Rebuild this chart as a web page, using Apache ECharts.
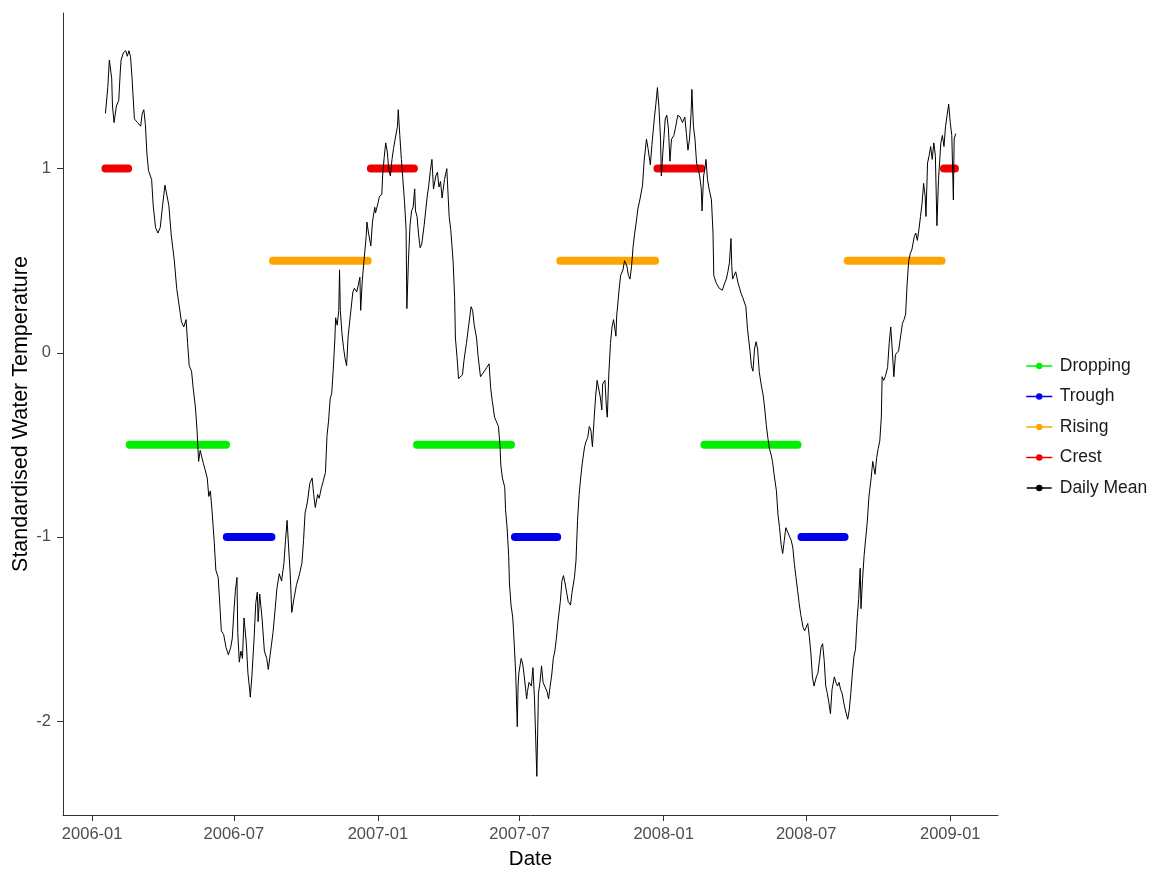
<!DOCTYPE html>
<html>
<head>
<meta charset="utf-8">
<script src="https://cdn.jsdelivr.net/npm/echarts@6/dist/echarts.min.js"></script>
<style>
  html, body { margin: 0; padding: 0; background: #fff; }
  #chart { width: 1152px; height: 869px; }
</style>
</head>
<body>
<div id="chart"></div>
<script>
// daily mean: days since 2006-01-01 and standardised value
const meanDay = [
  17, 20, 22, 25, 26, 28, 31, 34, 36, 37, 40, 43, 45, 47, 49, 51, 54, 56, 58, 60,
  62, 64, 66, 68, 70, 72, 76, 78, 81, 84, 87, 90, 93, 95, 98, 101, 105, 108, 111, 114,
  117, 120, 122, 124, 127, 129, 132, 134, 136, 138, 142, 144, 147, 149, 151, 153, 156, 158, 161, 163,
  165, 168, 171, 174, 177, 179, 181, 183, 185,
  186, 188, 190, 192, 194, 197, 199, 201, 202, 204, 207, 209, 211, 212, 214, 217, 220, 223, 225, 228,
  231, 234, 236, 239, 242, 245, 247, 249, 251, 253, 255, 258, 261, 265, 268, 270, 272, 275, 278, 281,
  283, 285, 288, 290, 293, 295, 298, 300, 302, 304, 306, 308, 310, 311, 313, 315, 316, 317, 319, 321,
  323, 325, 327, 330, 333, 335, 338, 340, 342, 343, 345, 347, 350, 351, 353, 356, 358, 361, 362, 365,
  367, 370, 371, 373, 375,
  377, 379, 381, 383, 385, 387, 390, 391, 393, 395, 397, 399, 401, 402, 404, 406, 408, 410, 412, 413,
  415, 417, 419, 421, 424, 426, 428, 430, 432, 434, 436, 439, 441, 443, 445, 447, 450, 453, 454, 456,
  458, 461, 463, 464, 466, 468, 470, 473, 475, 478, 481, 484, 486, 488, 491, 493, 496, 498, 501, 504,
  507, 509, 511, 514, 516, 519, 521, 522, 524, 527, 528, 530, 532, 533, 535, 537, 538, 541, 543, 544,
  545, 548, 550, 552, 555, 556, 558, 561, 563,
  565, 568, 570, 572, 574, 576, 578, 581, 583, 585, 587, 589, 591, 593, 595, 598, 600, 602, 604, 606,
  608, 611, 613, 616, 618, 620, 622, 624, 626, 629, 631, 633, 635, 637, 639, 641, 643, 645, 646, 649,
  651, 652, 655, 657, 658, 660, 662, 664, 666, 669, 670, 673, 675, 678, 680, 683, 685, 687, 689, 691,
  693, 695, 697, 700, 703, 705, 708, 710, 713, 715, 718, 720, 722, 724, 726, 727, 729, 732, 734, 736,
  738, 740, 743, 745, 748, 751,
  754, 757, 759, 761, 763, 765, 766, 768, 770, 772, 774, 776, 778, 779, 781, 783, 784, 786, 788, 791,
  793, 794, 797, 799, 801, 803, 805, 808, 810, 812, 814, 816, 817, 818, 820, 822, 825, 827, 829, 831,
  833, 835, 837, 840, 842, 844, 846, 848, 850, 852, 854, 857, 859, 861, 863, 865, 867, 869, 871, 874,
  876, 878, 880, 882, 884, 886, 888, 891, 893, 895, 897, 899, 901, 903, 905, 908, 910, 912, 914, 916,
  918, 920, 922, 925, 927, 929, 931, 933, 935, 937, 939,
  941, 943, 945, 948, 950, 952, 954, 956, 958, 960, 962, 965, 967, 969, 971, 973, 975, 977, 979, 981,
  982, 984, 986, 988, 990, 992, 993, 995, 997, 1000, 1002, 1004, 1006, 1008, 1009, 1011, 1013, 1016, 1018, 1020,
  1022, 1024, 1026, 1028, 1030, 1033, 1035, 1037, 1039, 1041, 1043, 1045, 1047, 1050, 1052, 1054, 1056, 1058, 1060, 1062,
  1064, 1065, 1067, 1069, 1071, 1073, 1075, 1077, 1079, 1081, 1084, 1086, 1088, 1090, 1092, 1094, 1096, 1098, 1100, 1101,
  1103
];
const meanValue = [
  1.30, 1.44, 1.59, 1.49, 1.34, 1.25, 1.34, 1.37, 1.53, 1.59, 1.63, 1.64, 1.61, 1.64, 1.61, 1.49, 1.27, 1.28, 1.25, 1.26,
  1.23, 1.30, 1.32, 1.24, 1.08, 0.99, 0.94, 0.80, 0.68, 0.65, 0.68, 0.80, 0.91, 0.91, 0.80, 0.64, 0.50, 0.35, 0.26, 0.17,
  0.14, 0.18, 0.05, -0.07, -0.10, -0.19, -0.30, -0.42, -0.59, -0.53, -0.60, -0.63, -0.68, -0.78, -0.75, -0.85, -1.03, -1.18, -1.22, -1.36,
  -1.51, -1.53, -1.60, -1.64, -1.60, -1.55, -1.41, -1.29, -1.22,
  -1.52, -1.68, -1.62, -1.66, -1.44, -1.58, -1.74, -1.82, -1.87, -1.76, -1.54, -1.36, -1.30, -1.46, -1.31, -1.44, -1.62, -1.66, -1.72, -1.62,
  -1.52, -1.38, -1.28, -1.20, -1.24, -1.14, -1.02, -0.91, -1.06, -1.20, -1.41, -1.33, -1.26, -1.20, -1.14, -1.02, -0.87, -0.81, -0.71, -0.68,
  -0.77, -0.84, -0.77, -0.79, -0.73, -0.70, -0.65, -0.45, -0.37, -0.25, -0.22, -0.09, 0.07, 0.19, 0.15, 0.23, 0.45, 0.23, 0.11, 0.03,
  -0.03, -0.07, 0.09, 0.21, 0.33, 0.35, 0.33, 0.37, 0.41, 0.23, 0.39, 0.49, 0.63, 0.71, 0.65, 0.58, 0.71, 0.79, 0.76, 0.81,
  0.85, 0.86, 0.96, 1.06, 1.14,
  1.09, 0.99, 0.96, 1.05, 1.11, 1.16, 1.23, 1.32, 1.18, 1.05, 1.04, 0.82, 0.67, 0.24, 0.50, 0.69, 0.77, 0.79, 0.89, 0.77,
  0.74, 0.64, 0.57, 0.59, 0.69, 0.77, 0.85, 0.91, 0.99, 1.05, 0.89, 0.96, 0.98, 0.90, 0.93, 0.84, 0.94, 1.00, 0.99, 0.74,
  0.67, 0.50, 0.30, 0.08, -0.02, -0.14, -0.14, -0.12, -0.04, 0.05, 0.15, 0.25, 0.23, 0.15, 0.08, -0.02, -0.13, -0.13, -0.10, -0.08,
  -0.06, -0.19, -0.26, -0.35, -0.37, -0.40, -0.51, -0.61, -0.68, -0.73, -0.85, -0.95, -1.10, -1.25, -1.37, -1.43, -1.49, -1.74, -2.03, -1.81,
  -1.74, -1.66, -1.69, -1.76, -1.88, -1.84, -1.79, -1.81, -1.71,
  -1.88, -2.30, -1.85, -1.79, -1.70, -1.79, -1.81, -1.84, -1.88, -1.81, -1.75, -1.66, -1.62, -1.55, -1.46, -1.35, -1.24, -1.21, -1.25, -1.30,
  -1.35, -1.37, -1.30, -1.22, -1.13, -0.91, -0.77, -0.68, -0.60, -0.51, -0.48, -0.46, -0.40, -0.42, -0.51, -0.37, -0.24, -0.15, -0.15, -0.24,
  -0.31, -0.17, -0.15, -0.31, -0.35, -0.11, 0.05, 0.14, 0.18, 0.09, 0.20, 0.34, 0.42, 0.45, 0.50, 0.47, 0.42, 0.40, 0.47, 0.58,
  0.65, 0.71, 0.78, 0.84, 0.91, 1.04, 1.16, 1.11, 1.02, 1.13, 1.27, 1.35, 1.44, 1.33, 1.16, 0.96, 1.09, 1.27, 1.29, 1.22,
  1.04, 1.16, 1.18, 1.22, 1.29, 1.28,
  1.25, 1.28, 1.19, 1.10, 1.16, 1.30, 1.43, 1.23, 1.16, 1.03, 1.00, 0.96, 0.89, 0.77, 0.96, 1.01, 1.05, 0.94, 0.89, 0.83,
  0.65, 0.42, 0.38, 0.37, 0.35, 0.34, 0.34, 0.38, 0.40, 0.44, 0.49, 0.62, 0.47, 0.40, 0.42, 0.44, 0.38, 0.35, 0.32, 0.30,
  0.29, 0.25, 0.13, 0.02, -0.07, -0.10, 0.02, 0.06, 0.02, -0.10, -0.16, -0.23, -0.30, -0.39, -0.46, -0.52, -0.55, -0.59, -0.66, -0.75,
  -0.88, -0.95, -1.04, -1.09, -1.02, -0.95, -0.95, -1.00, -1.02, -1.06, -1.15, -1.22, -1.29, -1.36, -1.42, -1.49, -1.51, -1.49, -1.47, -1.54,
  -1.63, -1.76, -1.81, -1.76, -1.74, -1.67, -1.60, -1.58, -1.67, -1.81, -1.85,
  -1.90, -1.96, -1.83, -1.76, -1.79, -1.81, -1.79, -1.83, -1.85, -1.90, -1.94, -1.99, -1.94, -1.85, -1.74, -1.65, -1.61, -1.45, -1.34, -1.17,
  -1.39, -1.23, -1.10, -1.01, -0.92, -0.79, -0.75, -0.68, -0.59, -0.66, -0.57, -0.52, -0.48, -0.35, -0.13, -0.15, -0.13, -0.08, 0.05, 0.14,
  0.01, -0.13, -0.01, -0.01, 0.01, 0.10, 0.16, 0.18, 0.21, 0.38, 0.50, 0.54, 0.56, 0.63, 0.65, 0.61, 0.67, 0.74, 0.81, 0.92,
  0.85, 0.74, 1.03, 1.07, 1.12, 1.05, 1.14, 1.07, 0.69, 0.94, 1.14, 1.18, 1.12, 1.23, 1.29, 1.35, 1.25, 1.18, 0.83, 1.16,
  1.19
];

// seasonal phases: [start, end] date ranges, drawn at a fixed level each
const droppingRanges = [["2006-02-18", "2006-06-21"], ["2007-02-20", "2007-06-20"], ["2008-02-22", "2008-06-20"]];
const troughRanges = [["2006-06-22", "2006-08-18"], ["2007-06-25", "2007-08-18"], ["2008-06-25", "2008-08-19"]];
const risingRanges = [["2006-08-20", "2006-12-19"], ["2007-08-22", "2007-12-21"], ["2008-08-23", "2008-12-21"]];
const crestRanges = [["2006-01-18", "2006-02-16"], ["2006-12-23", "2007-02-16"], ["2007-12-24", "2008-02-18"], ["2008-12-24", "2009-01-07"]];
const phaseLevels = { Dropping: -0.5, Trough: -1, Rising: 0.5, Crest: 1 };

const xTicks = ["2006-01-01", "2006-07-01", "2007-01-01", "2007-07-01", "2008-01-01", "2008-07-01", "2009-01-01"];
const xTickLabels = ["2006-01", "2006-07", "2007-01", "2007-07", "2008-01", "2008-07", "2009-01"];
const yTicks = [-2, -1, 0, 1];

const DAY = 86400000;
const T0 = Date.UTC(2006, 0, 1);
const dayTime = (d) => T0 + d * DAY;
const FONT = "'Liberation Sans', Arial, sans-serif";
const INK = "#333333";

function phaseData(ranges, level) {
  const out = [];
  ranges.forEach(([a, b], i) => {
    out.push([Date.parse(a), level], [Date.parse(b), level]);
    if (i < ranges.length - 1) out.push([Date.parse(b) + DAY / 2, null]);
  });
  return out;
}

const phaseStyle = {
  Dropping: "#00ee00",
  Trough: "#0000ee",
  Rising: "#ffa500",
  Crest: "#ee0000",
};
const phaseRanges = { Dropping: droppingRanges, Trough: troughRanges, Rising: risingRanges, Crest: crestRanges };

const xTickTimes = xTicks.map((d) => Date.parse(d));

const chart = echarts.init(document.getElementById("chart"), null, { renderer: "canvas" });
chart.setOption({
  animation: false,
  backgroundColor: "#fff",
  textStyle: { fontFamily: FONT },
  grid: { left: 63, right: 154, top: 13, bottom: 54, outerBoundsMode: "none" },
  legend: {
    orient: "vertical",
    left: 1026,
    top: 357,
    padding: 0,
    itemWidth: 25,
    itemHeight: 8,
    itemGap: 12.5,
    data: ["Dropping", "Trough", "Rising", "Crest", "Daily Mean"],
    lineStyle: { width: 1.5 },
    textStyle: { fontFamily: FONT, fontSize: 17.5, color: "#1a1a1a", lineHeight: 18, padding: [0, 0, 0, 3] },
  },
  xAxis: {
    // dates as timestamps on a plain value axis so the tick positions can be given directly
    type: "value",
    min: dayTime(-37.2),
    max: dayTime(1157),
    name: "Date",
    nameLocation: "middle",
    nameGap: 34,
    nameTextStyle: { fontFamily: FONT, fontSize: 20.5, color: "#000" },
    axisLine: { show: true, onZero: false, lineStyle: { color: INK, width: 1 } },
    axisTick: { show: true, length: 6, customValues: xTickTimes, lineStyle: { color: INK, width: 1 } },
    axisLabel: {
      customValues: xTickTimes,
      formatter: (v) => {
        const i = xTickTimes.indexOf(v);
        return i >= 0 ? xTickLabels[i] : "";
      },
      color: "#4d4d4d",
      fontFamily: FONT,
      fontSize: 16.5,
      margin: 11,
    },
    splitLine: { show: false },
  },
  yAxis: {
    type: "value",
    min: -2.51,
    max: 1.845,
    name: "Standardised Water Temperature",
    nameLocation: "middle",
    nameGap: 31,
    nameMoveOverlap: false,
    nameTextStyle: { fontFamily: FONT, fontSize: 21.5, color: "#000" },
    axisLine: { show: true, onZero: false, lineStyle: { color: INK, width: 1 } },
    axisTick: { show: true, length: 6, customValues: yTicks, lineStyle: { color: INK, width: 1 } },
    axisLabel: {
      customValues: yTicks,
      formatter: (v) => String(v),
      color: "#4d4d4d",
      fontFamily: FONT,
      fontSize: 16.5,
      margin: 12,
    },
    splitLine: { show: false },
  },
  series: [
    ...Object.keys(phaseRanges).map((name) => ({
      name,
      type: "line",
      data: phaseData(phaseRanges[name], phaseLevels[name]),
      symbol: "circle",
      showSymbol: false,
      connectNulls: false,
      lineStyle: { width: 8, color: phaseStyle[name], cap: "round" },
      itemStyle: { color: phaseStyle[name] },
      z: 2,
      silent: true,
    })),
    {
      name: "Daily Mean",
      type: "line",
      data: meanDay.map((d, i) => [dayTime(d), meanValue[i]]),
      symbol: "circle",
      showSymbol: false,
      lineStyle: { width: 1, color: "#000" },
      itemStyle: { color: "#000" },
      z: 5,
      silent: true,
    },
  ],
});
window.addEventListener("resize", () => chart.resize());
</script>
</body>
</html>
